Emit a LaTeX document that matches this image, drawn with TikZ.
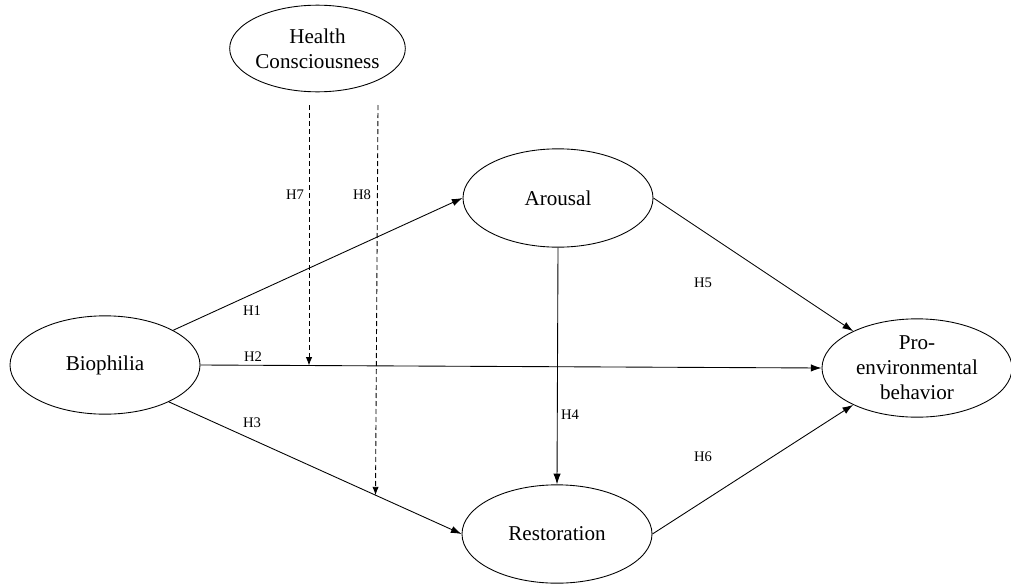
\documentclass[tikz,border=0pt]{standalone}
\usepackage{fontspec}
\setmainfont{Liberation Serif}
\usetikzlibrary{shapes.geometric,arrows.meta}

\begin{document}
\begin{tikzpicture}[
            x=0.03cm, y=-0.03cm,
            construct/.style={ellipse, draw, line width=0.75pt, fill=white, inner sep=0pt,
                minimum width=5.7cm, minimum height=2.95cm, align=center,
                font=\fontsize{18}{21.5}\selectfont},
            path/.style={line width=0.75pt, -{Latex[length=3.2mm,width=2.2mm]}},
            moderation/.style={line width=0.75pt, dash pattern=on 0.15cm off 0.09cm,
                -{Latex[length=2.5mm,width=1.9mm]}},
            hyp/.style={font=\fontsize{12.5}{14}\selectfont, inner sep=0pt}
        ]
            \useasboundingbox (0,0) rectangle (1011,585);

            \node[construct] (bio) at (105,365) {Biophilia};
            \node[construct] (arousal) at (558,198) {Arousal};
            \node[construct] (resto) at (557,534) {Restoration};
            \node[construct] (pro) at (917,368) {Pro-\\environmental\\behavior};
            \node[construct, minimum width=5.25cm, minimum height=2.6cm] (health) at (317.5,48.5) {Health\\Consciousness};

            \draw[path] (bio.27) -- (arousal.west);
            \draw[path] (bio.east) -- coordinate[pos=0.175] (m7) (pro.west);
            \draw[path] (bio.-30) -- coordinate[pos=0.706] (m8) (resto.west);
            \draw[path] (arousal.south) -- (resto.north);
            \draw[path] (arousal.east) -- (pro.150);
            \draw[path] (resto.east) -- (pro.210);

            \coordinate (t7) at (309,105);
            \coordinate (t8) at (378,105);
            \draw[moderation] (t7) -- (t7 |- m7);
            \draw[moderation] (t8) -- (m8);

            \foreach \n/\x/\y in {1/252/311,2/253/357,3/252/423,4/570/415,5/703/283,6/703/457,7/295/195,8/362/195} {
                \node[hyp] (h\n) at (\x,\y) {H\n};
            }

        \end{tikzpicture}
\end{document}
